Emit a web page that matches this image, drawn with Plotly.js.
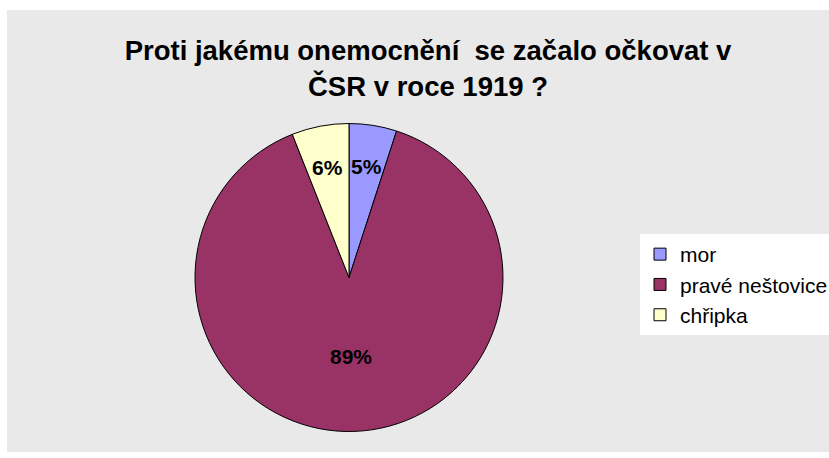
<!DOCTYPE html>
<html>
<head>
<meta charset="utf-8">
<script src="https://cdn.plot.ly/plotly-3.0.1.min.js"></script>
<style>html,body{margin:0;padding:0;background:#fff;}#chart{width:829px;height:458px;}</style>
</head>
<body>
<div id="chart"></div>
<script>
const categories = ["mor", "pravé neštovice", "chřipka"];
const shares = [5, 89, 6];
const sliceColors = ["#9999FF", "#993366", "#FFFFCC"];
const titleText = "Proti jakému onemocnění  se začalo očkovat v<br>ČSR v roce 1919 ?";

const W = 829, H = 458;
const dom = {x: [195 / W, 503 / W], y: [1 - 432 / H, 1 - 123 / H]};

// label annotations derived from the slice values
const total = shares.reduce((a, b) => a + b, 0);
const cx = (dom.x[0] + dom.x[1]) / 2 * W;
const cy = (1 - (dom.y[0] + dom.y[1]) / 2) * H;
const R = Math.min((dom.x[1] - dom.x[0]) * W, (dom.y[1] - dom.y[0]) * H) / 2;
let cum = 0;
const labelAnns = shares.map(v => {
  const frac = v / total;
  const theta = 2 * Math.PI * (cum + frac / 2);
  cum += frac;
  const rf = frac < 0.5 ? 0.73 : 0.51;
  const px = cx + rf * R * Math.sin(theta);
  const py = cy - rf * R * Math.cos(theta);
  return {
    x: px / W, y: 1 - py / H, xref: "paper", yref: "paper",
    text: Math.round(frac * 100) + "%", showarrow: false,
    xanchor: "center", yanchor: "middle",
    font: {family: "Arial, Liberation Sans, sans-serif", size: 21, color: "#000", weight: "bold"}
  };
});

const data = [{
  type: "pie",
  labels: categories,
  values: shares,
  sort: false,
  direction: "clockwise",
  rotation: 0,
  marker: {colors: sliceColors, line: {color: "#000", width: 1}},
  textinfo: "none",
  hoverinfo: "label+percent",
  domain: dom
}];

const layout = {
  width: W, height: H,
  margin: {l: 0, r: 0, t: 0, b: 0, autoexpand: false},
  paper_bgcolor: "#ffffff",
  font: {family: "Arial, Liberation Sans, sans-serif", color: "#000"},
  title: {
    text: titleText,
    font: {family: "Arial, Liberation Sans, sans-serif", size: 27.5, color: "#000", weight: "bold"},
    x: 428 / W, xanchor: "center", xref: "paper",
    y: 1 - 60 / H, yanchor: "top", yref: "container",
    automargin: false
  },
  showlegend: true,
  legend: {
    x: 640 / W, xanchor: "left", y: 1 - 234 / H, yanchor: "top",
    bgcolor: "#ffffff", borderwidth: 0,
    font: {family: "Arial, Liberation Sans, sans-serif", size: 21, color: "#000"}
  },
  shapes: [{
    type: "rect", xref: "paper", yref: "paper", layer: "below",
    x0: 7 / W, x1: 1, y0: 1 - 452 / H, y1: 1 - 10 / H,
    fillcolor: "#e9e9e9", line: {width: 0}
  }],
  annotations: labelAnns
};

Plotly.newPlot("chart", data, layout, {displayModeBar: false, staticPlot: true});
</script>
</body>
</html>
